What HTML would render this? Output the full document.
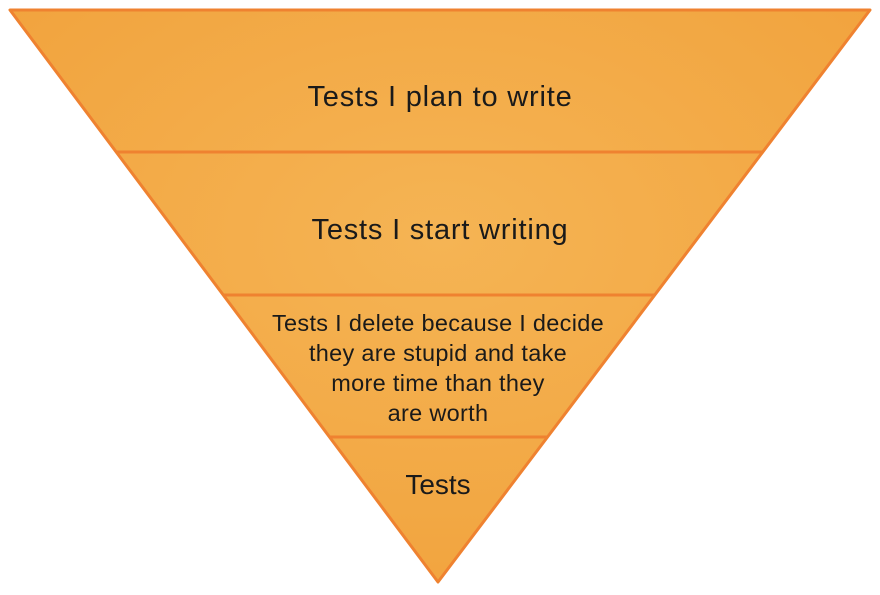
<!DOCTYPE html>
<html><head><style>
html,body{margin:0;padding:0;background:#fff;width:880px;height:595px;overflow:hidden}
svg{display:block}
text{font-family:"Liberation Sans",sans-serif;fill:#1a1a1a;text-anchor:middle}
</style></head><body>
<svg width="880" height="595" viewBox="0 0 880 595">
<defs>
<radialGradient id="g" cx="50%" cy="40%" r="70%">
<stop offset="0" stop-color="#f5b454"/><stop offset="1" stop-color="#f1a23c"/>
</radialGradient>
<clipPath id="c"><polygon points="10,10 870,10 438,582"/></clipPath>
</defs>
<polygon points="10,10 870,10 438,582" fill="url(#g)"/>
<g clip-path="url(#c)" stroke="#ef8230" stroke-width="3">
<line x1="0" y1="152" x2="880" y2="152"/>
<line x1="0" y1="295" x2="880" y2="295"/>
<line x1="0" y1="437" x2="880" y2="437"/>
</g>
<polygon points="10,10 870,10 438,582" fill="none" stroke="#ef8230" stroke-width="3" stroke-linejoin="round"/>
<text x="440" y="106" font-size="29" letter-spacing="0.8">Tests I plan to write</text>
<text x="440" y="239" font-size="29" letter-spacing="0.8">Tests I start writing</text>
<text x="438" y="331" font-size="23.5" letter-spacing="0.3">Tests I delete because I decide</text>
<text x="438" y="361" font-size="23.5" letter-spacing="0.3">they are stupid and take</text>
<text x="438" y="391" font-size="23.5" letter-spacing="0.3">more time than they</text>
<text x="438" y="421" font-size="23.5" letter-spacing="0.3">are worth</text>
<text x="438" y="494" font-size="28">Tests</text>
</svg>
</body></html>
